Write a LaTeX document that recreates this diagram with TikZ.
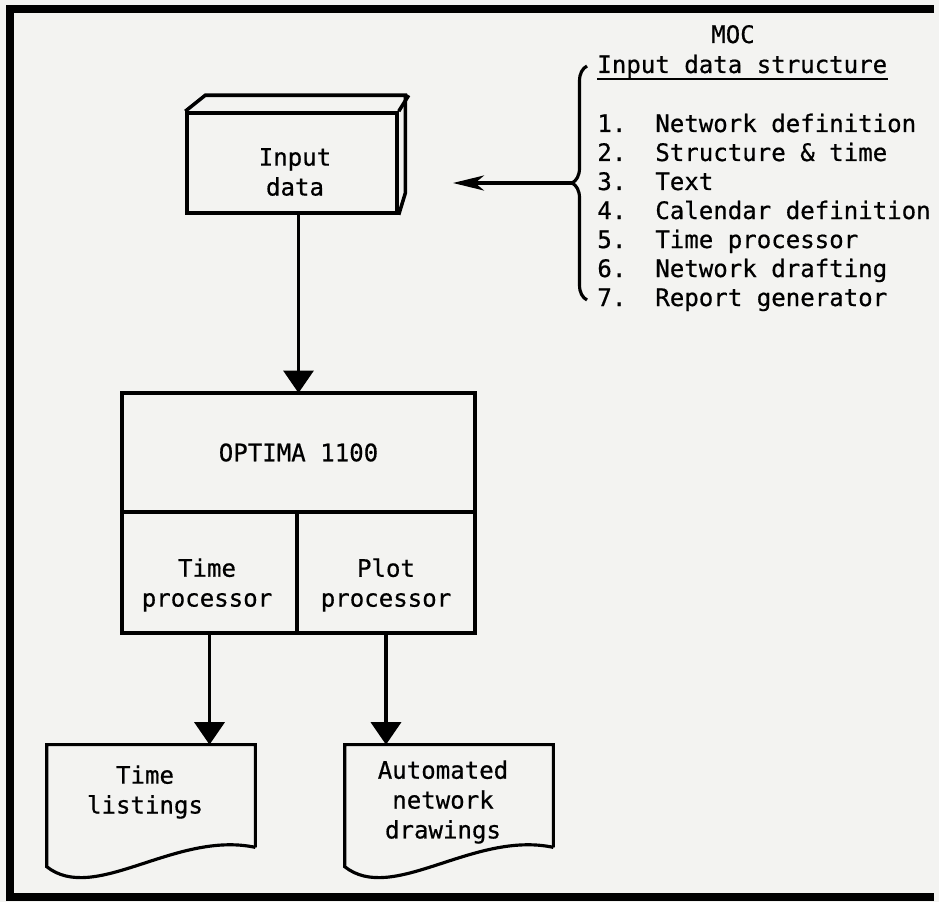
\documentclass[tikz,border=0pt]{standalone}
\usepackage{fontspec}
\newfontfamily\typefont{DejaVu Sans Mono}[FakeBold=0.6]
\usepackage{tikz}
\usetikzlibrary{arrows.meta}
\usetikzlibrary{decorations.pathreplacing}
\definecolor{paper}{RGB}{243,243,241}
\newcommand{\listno}[1]{\makebox[2.41em][l]{#1}}

\begin{document}
\begin{tikzpicture}[x=0.02cm,y=-0.02cm,
  every node/.style={font=\typefont\fontsize{13.7}{17}\selectfont, inner sep=0pt},
  lbl/.style={align=center},
  item/.style={anchor=base west},
  boxline/.style={line width=2pt, line join=miter},
  procbox/.style={draw, line width=2.8pt, outer sep=0pt},
  docshape/.style={inner sep=0pt},
  docline/.style={line width=1.8pt, line join=miter},
  flow/.style={line width=2pt, -{Triangle[length=0.45cm,width=0.6cm]}},
  ptr/.style={line width=2pt, -{Stealth[length=0.62cm,width=0.3cm,inset=0.18cm]}}]
\useasboundingbox[fill=paper] (0,0) rectangle (939,902);
% frame, runs off at the right
\draw[line width=4pt] (934,9) -- (10,9) -- (10,897) -- (934,897);

% input data
\node[draw, boxline, minimum width=4.2cm, minimum height=2cm] (input) at (292,163) {};
\node[lbl] (inputtxt) at (295,172) {Input\\data};
\draw[boxline] (input.north west) -- ++(20,-16) -- ++(200,0) -- ++(0,98) -- (input.south east);
\draw[boxline] (input.north east) -- ++(10,-16);

% OPTIMA
\node[procbox, minimum width=7.06cm, minimum height=2.38cm] (optima) at (298.5,452.5) {OPTIMA 1100};
\node[procbox, anchor=north west, minimum width=3.5cm, minimum height=2.42cm] (timep) at (optima.south west) {};
\node[procbox, anchor=north east, minimum width=3.56cm, minimum height=2.42cm] (plotp) at (optima.south east) {};
\node[lbl] (timetxt) at (207,585) {Time\\processor};
\node[lbl] (plottxt) at (386,585) {Plot\\processor};

% outputs
\node[docshape, minimum width=4.16cm, minimum height=2.04cm] (tl) at (151,796) {};
\draw[docline] (tl.south east) -- (tl.north east) -- (tl.north west) -- ++(0,122)
  .. controls +(48,38) and +(-80,-17) .. (tl.south east);
\node[lbl] (tltxt) at (145,792) {Time\\listings};
\node[docshape, minimum width=4.16cm, minimum height=2.04cm] (auto) at (449,796) {};
\draw[docline] (auto.south east) -- (auto.north east) -- (auto.north west) -- ++(0,122)
  .. controls +(48,38) and +(-80,-17) .. (auto.south east);
\node[lbl] (autotxt) at (443,802) {Automated\\network\\drawings};

\draw[flow] (input.south -| optima.north) -- (optima.north);
\draw[flow] (timep.south) -- (timep.south |- tl.north);
\draw[flow] (plotp.south) -- (plotp.south |- auto.north);

% input data structure
\node[anchor=base] (moc) at (733,43) {MOC};
\node[item] (structtitle) at (597,73) {Input data structure};
\draw[line width=1.2pt] ([yshift=-0.12cm]structtitle.base west) -- ([yshift=-0.12cm]structtitle.base east);
\node[item] (item1) at (597,132) {\listno{1.}Network definition};
\node[item] (item2) at (597,161) {\listno{2.}Structure \& time};
\node[item] (item3) at (597,190) {\listno{3.}Text};
\node[item] (item4) at (597,219) {\listno{4.}Calendar definition};
\node[item] (item5) at (597,248) {\listno{5.}Time processor};
\node[item] (item6) at (597,277) {\listno{6.}Network drafting};
\node[item] (item7) at (597,306) {\listno{7.}Report generator};

\coordinate (bracetop) at (587,66);
\coordinate (bracebot) at (587,300);
\draw[line width=1.8pt, decorate, decoration={brace, amplitude=0.3cm}] (bracebot) -- (bracetop);
\coordinate (bracetip) at (572,183);
\coordinate (ptrend) at (453,183);
\draw[ptr] (bracetip) -- (ptrend);
\end{tikzpicture}
\end{document}
